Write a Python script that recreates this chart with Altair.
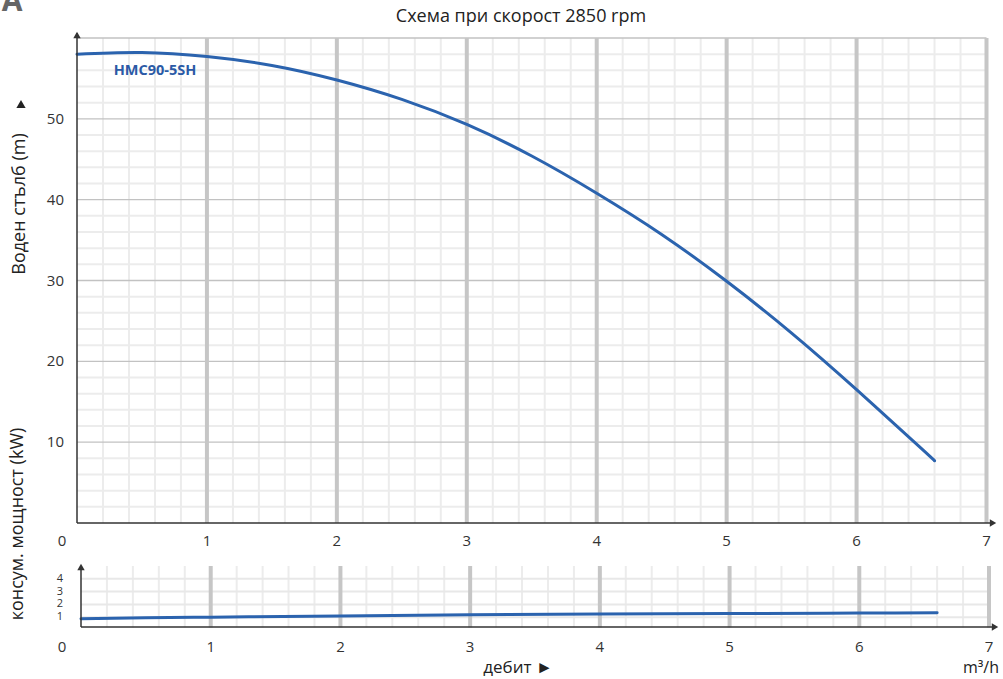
import altair as alt
import pandas as pd

# ---- data -----------------------------------------------------------------
flow = [0, 0.5, 1, 1.5, 2, 2.5, 3, 3.5, 4, 4.5, 5, 5.5, 6, 6.5, 6.6]
head = [58.0, 58.2, 57.7, 56.6, 54.8, 52.4, 49.3, 45.4, 40.8, 35.7, 29.9, 23.5, 16.5, 9.2, 7.7]

power_flow = [0, 0.5, 1, 2, 3, 4, 5, 6, 6.6]
power_kw = [0.88, 0.95, 1.0, 1.09, 1.19, 1.25, 1.29, 1.32, 1.35]

x_ticks = [1, 2, 3, 4, 5, 6, 7]
head_ticks = [10, 20, 30, 40, 50]
power_ticks = [1, 2, 3, 4]

title_text = "Схема при скорост 2850 rpm"
model_name = "HMC90-5SH"
head_title = "Воден стълб (m)"
power_title = "консум. мощност (kW)"
flow_title = "дебит ►"
flow_unit = "m³/h"

FONT = "Open Sans"
LINE = "#2b63ae"
INK = "#333333"
DARK = "#222222"

# ---- scales (absolute pixel ranges; one canvas holds both panels) ---------
xs_top = alt.Scale(domain=[0, 7], range=[77, 986.5], nice=False, zero=False)
ys_top = alt.Scale(domain=[0, 60], range=[523, 38], nice=False, zero=False)
xs_bot = alt.Scale(domain=[0, 7], range=[81, 989], nice=False, zero=False)
ys_bot = alt.Scale(domain=[0, 5], range=[630, 566], nice=False, zero=False)

minor_q = [round(i * 0.2, 1) for i in range(1, 35) if i % 5 != 0]


def vrules(values, xs, ys, lo, hi, color, width):
    df = pd.DataFrame({"q": values, "lo": lo, "hi": hi})
    return alt.Chart(df).mark_rule(color=color, strokeWidth=width).encode(
        x=alt.X("q:Q", scale=xs, axis=None),
        y=alt.Y("lo:Q", scale=ys, axis=None),
        y2="hi:Q",
    )


def hrules(values, xs, ys, lo, hi, color, width):
    df = pd.DataFrame({"v": values, "lo": lo, "hi": hi})
    return alt.Chart(df).mark_rule(color=color, strokeWidth=width).encode(
        y=alt.Y("v:Q", scale=ys, axis=None),
        x=alt.X("lo:Q", scale=xs, axis=None),
        x2="hi:Q",
    )


one = pd.DataFrame({"k": [0]})


def fixed_text(text, x, y, size=13, color=INK, align="center", angle=0, weight="normal"):
    kw = dict(text=text, fontSize=size, color=color, align=align, baseline="middle",
              font=FONT, fontWeight=weight)
    if angle:
        kw["angle"] = angle
    return alt.Chart(one).mark_text(**kw).encode(x=alt.value(x), y=alt.value(y))


def fixed_rule(x, y, x2, y2, width=1.5):
    return alt.Chart(one).mark_rule(color=INK, strokeWidth=width).encode(
        x=alt.value(x), y=alt.value(y), x2=alt.value(x2), y2=alt.value(y2))


def arrow(x, y, shape, size=55, color=INK):
    return alt.Chart(one).mark_point(shape=shape, filled=True, color=color, opacity=1,
                                     size=size).encode(x=alt.value(x), y=alt.value(y))


layers = []

# ---- head panel -------------------------------------------------------------
layers += [
    vrules(minor_q, xs_top, ys_top, 0, 60, "#ececec", 2),
    hrules([v for v in range(2, 60, 2) if v % 10], xs_top, ys_top, 0, 7, "#ececec", 2),
    hrules([10, 20, 30, 40, 50, 60], xs_top, ys_top, 0, 7, "#c2c2c2", 1.3),
    vrules(x_ticks, xs_top, ys_top, 0, 60, "#c6c6c6", 4),
]

head_df = pd.DataFrame({"q": flow, "h": head})
layers.append(
    alt.Chart(head_df).mark_line(color=LINE, strokeWidth=3, interpolate="natural",
                                 strokeCap="round").encode(
        x=alt.X("q:Q", scale=xs_top, axis=None),
        y=alt.Y("h:Q", scale=ys_top, axis=None),
    )
)

# axes with arrow heads
layers += [
    fixed_rule(77, 523, 77, 33),
    fixed_rule(77, 523, 992, 523),
    arrow(77, 35, "triangle-up"),
    arrow(993, 523, "triangle-right"),
]

# tick labels
layers.append(
    alt.Chart(pd.DataFrame({"q": x_ticks})).mark_text(
        fontSize=15, color=INK, font=FONT, baseline="middle").encode(
        x=alt.X("q:Q", scale=xs_top, axis=None), y=alt.value(541), text="q:Q")
)
layers.append(
    alt.Chart(pd.DataFrame({"v": head_ticks})).mark_text(
        fontSize=15, color=INK, font=FONT, baseline="middle", align="right").encode(
        y=alt.Y("v:Q", scale=ys_top, axis=None), x=alt.value(64), text="v:Q")
)
layers.append(fixed_text("0", 62, 541, size=15))

# ---- power panel ------------------------------------------------------------
layers += [
    vrules(minor_q, xs_bot, ys_bot, 0.2, 5, "#ececec", 2),
    hrules(power_ticks, xs_bot, ys_bot, 0, 7, "#e8e8e8", 2),
    vrules(x_ticks, xs_bot, ys_bot, 0.2, 5, "#c6c6c6", 4),
]

power_df = pd.DataFrame({"q": power_flow, "p": power_kw})
layers.append(
    alt.Chart(power_df).mark_line(color=LINE, strokeWidth=3, interpolate="monotone",
                                  strokeCap="round").encode(
        x=alt.X("q:Q", scale=xs_bot, axis=None),
        y=alt.Y("p:Q", scale=ys_bot, axis=None),
    )
)

layers += [
    fixed_rule(81, 627, 81, 566),
    fixed_rule(81, 627, 994, 627),
    arrow(81, 567, "triangle-up"),
    arrow(995, 627, "triangle-right"),
]

layers.append(
    alt.Chart(pd.DataFrame({"q": x_ticks})).mark_text(
        fontSize=15, color=INK, font=FONT, baseline="middle").encode(
        x=alt.X("q:Q", scale=xs_bot, axis=None), y=alt.value(647), text="q:Q")
)
layers.append(
    alt.Chart(pd.DataFrame({"v": power_ticks})).mark_text(
        fontSize=11, color=INK, font=FONT, baseline="middle").encode(
        y=alt.Y("v:Q", scale=ys_bot, axis=None), x=alt.value(60), text="v:Q")
)
layers.append(fixed_text("0", 62, 647, size=15))

# ---- titles and labels -----------------------------------------------------------
layers += [
    fixed_text(title_text, 521, 17, size=18, color=DARK),
    fixed_text("A", 12, 2, size=30, color="#666666", weight="bold"),
    fixed_text(model_name, 155, 71, size=14.5, color="#2b5aa6", weight="bold"),
    arrow(21, 104, "triangle-up", size=85, color=DARK),
    fixed_text(head_title, 20, 204, size=18, color=DARK, angle=270),
    fixed_text(power_title, 18, 524, size=18, color=DARK, angle=270),
    fixed_text(flow_title, 518, 668, size=17, color=DARK),
    fixed_text(flow_unit, 999, 668, size=16, color=DARK, align="right"),
]

chart = (
    alt.layer(*layers)
    .resolve_scale(x="independent", y="independent")
    .properties(width=1003, height=679, autosize=alt.AutoSizeParams(type="none"),
                padding=0)
    .configure_view(stroke=None)
)

chart.save("out.html", embed_options={"renderer": "svg", "actions": False})
